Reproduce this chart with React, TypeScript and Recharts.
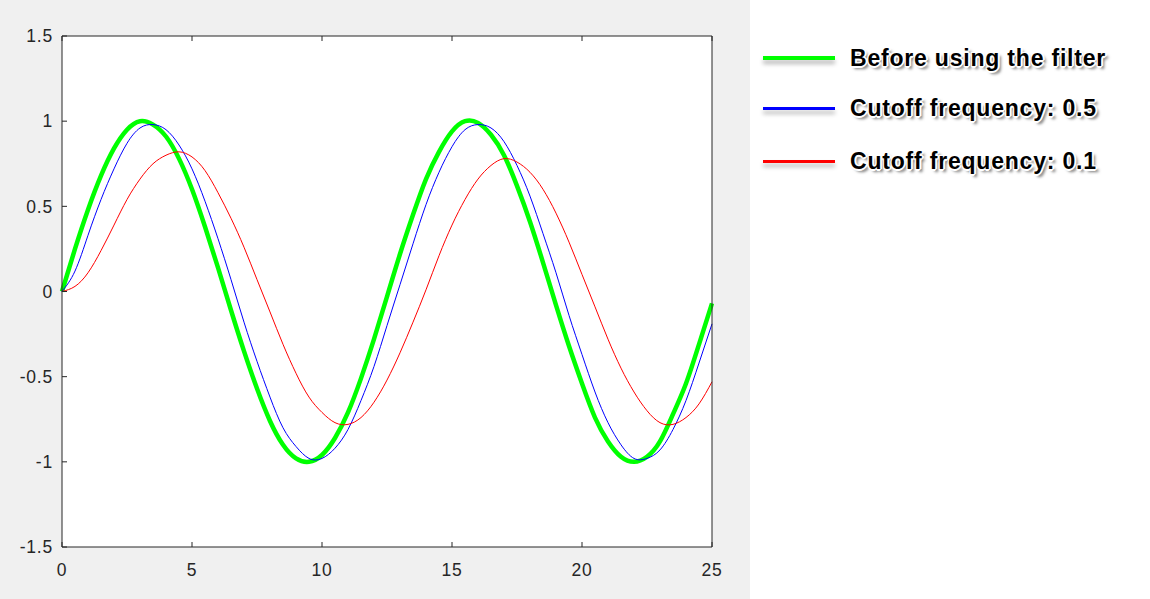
import React from "react";
import { LineChart, Line, XAxis, YAxis, CartesianGrid, Legend } from "recharts";

// sample times
const timeSteps = [
  0, 0.5, 1, 1.5, 2, 2.5, 3, 3.5, 4, 4.5, 5, 5.5, 6, 6.5, 7, 7.5, 8, 8.5, 9, 9.5,
  10, 10.5, 11, 11.5, 12, 12.5, 13, 13.5, 14, 14.5, 15, 15.5, 16, 16.5, 17, 17.5,
  18, 18.5, 19, 19.5, 20, 20.5, 21, 21.5, 22, 22.5, 23, 23.5, 24, 24.5, 25,
];

// green: noisy input
const rawSignal = [
  0, 0.25, 0.48, 0.68, 0.84, 0.95, 1.0, 0.98, 0.91, 0.78, 0.6, 0.38, 0.14, -0.11,
  -0.35, -0.57, -0.76, -0.9, -0.98, -1.0, -0.96, -0.86, -0.71, -0.51, -0.28, -0.03,
  0.22, 0.45, 0.66, 0.82, 0.94, 1.0, 0.99, 0.92, 0.8, 0.62, 0.41, 0.17, -0.08,
  -0.32, -0.54, -0.74, -0.88, -0.97, -1.0, -0.97, -0.88, -0.72, -0.54, -0.31, -0.07,
];

// blue: cutoff 0.5
const cutoff05 = [
  0, 0.12, 0.33, 0.54, 0.72, 0.87, 0.96, 0.98, 0.95, 0.86, 0.72, 0.53, 0.31, 0.07,
  -0.18, -0.41, -0.62, -0.8, -0.91, -0.98, -0.98, -0.92, -0.81, -0.64, -0.44, -0.2,
  0.04, 0.28, 0.51, 0.7, 0.85, 0.95, 0.98, 0.96, 0.88, 0.74, 0.56, 0.34, 0.11,
  -0.14, -0.37, -0.59, -0.77, -0.9, -0.98, -0.98, -0.93, -0.81, -0.64, -0.42, -0.19,
];

// red: cutoff 0.1
const cutoff01 = [
  0, 0.03, 0.11, 0.24, 0.39, 0.54, 0.66, 0.75, 0.8, 0.82, 0.79, 0.71, 0.58, 0.43,
  0.26, 0.07, -0.12, -0.31, -0.48, -0.62, -0.71, -0.77, -0.78, -0.74, -0.65, -0.52,
  -0.36, -0.18, 0.01, 0.21, 0.39, 0.54, 0.66, 0.74, 0.78, 0.76, 0.7, 0.6, 0.46,
  0.29, 0.1, -0.09, -0.28, -0.45, -0.59, -0.7, -0.77, -0.78, -0.74, -0.66, -0.53,
];

const xTicks = [0, 5, 10, 15, 20, 25];
const yTicks = [-1.5, -1, -0.5, 0, 0.5, 1, 1.5];
const seriesNames = [
  "Before using the filter",
  "Cutoff frequency: 0.5",
  "Cutoff frequency: 0.1",
];

const data = timeSteps.map((t, i) => ({
  t,
  raw: rawSignal[i],
  f05: cutoff05[i],
  f01: cutoff01[i],
}));

const axisColor = "#262626";
const tickFont = {
  fontFamily: "'Liberation Sans', Arial, sans-serif",
  fontSize: 17.5,
  letterSpacing: 0.8,
  fill: axisColor,
};

const legendTextStyle: React.CSSProperties = {
  fontFamily: "'Liberation Sans', Arial, sans-serif",
  fontWeight: "bold",
  fontSize: 23,
  letterSpacing: 0.8,
  color: "#000",
  textShadow:
    "-1px -1px 0 #fff, 1px -1px 0 #fff, -1px 1px 0 #fff, 1px 1px 0 #fff, 0 2px 0 #fff, 2px 0 0 #fff, 3px 3px 3px rgba(0,0,0,0.55)",
  whiteSpace: "nowrap",
};

const swatchHeights = [4, 3, 3];
const rowHeights = [48, 52, 54];

const FilterLegend = ({ payload }: any) => {
  // keep the plotting order, not alphabetical
  const items = [...(payload || [])].sort(
    (a: any, b: any) => seriesNames.indexOf(a.value) - seriesNames.indexOf(b.value)
  );
  return (
    <div style={{ width: 380 }}>
      {items.map((entry: any, i: number) => (
        <div
          key={entry.value}
          style={{ display: "flex", alignItems: "center", height: rowHeights[i] }}
        >
          <div
            style={{
              width: 72,
              height: swatchHeights[i],
              background: entry.color,
              boxShadow: "0 4px 4px rgba(0,0,0,0.28)",
              marginRight: 15,
            }}
          />
          <span style={legendTextStyle}>{entry.value}</span>
        </div>
      ))}
    </div>
  );
};

export default function App() {
  return (
    <div
      style={{
        width: 1150,
        height: 599,
        position: "relative",
        background: "linear-gradient(to right, #f0f0f0 0, #f0f0f0 750px, #ffffff 750px)",
      }}
    >
      <style>{`body { margin: 0; }`}</style>
      <LineChart
        width={1150}
        height={599}
        data={data}
        margin={{ top: 30, right: 430, bottom: 22, left: 0 }}
      >
        <CartesianGrid fill="#ffffff" horizontal={false} vertical={false} />
        <XAxis
          xAxisId="bottom"
          dataKey="t"
          type="number"
          domain={[0, 25]}
          ticks={xTicks}
          height={30}
          tickSize={-5}
          tickMargin={22}
          stroke={axisColor}
          tick={tickFont}
        />
        <XAxis
          xAxisId="top"
          orientation="top"
          dataKey="t"
          type="number"
          domain={[0, 25]}
          ticks={xTicks}
          height={6}
          tickSize={-5}
          tickFormatter={() => ""}
          stroke={axisColor}
        />
        <YAxis
          yAxisId="left"
          type="number"
          domain={[-1.5, 1.5]}
          ticks={yTicks}
          width={62}
          tickSize={-5}
          tickMargin={14}
          stroke={axisColor}
          tick={tickFont}
        />
        <YAxis
          yAxisId="right"
          orientation="right"
          type="number"
          domain={[-1.5, 1.5]}
          ticks={yTicks}
          width={8}
          tickSize={-5}
          tickFormatter={() => ""}
          stroke={axisColor}
        />
        <Legend
          layout="vertical"
          align="center"
          verticalAlign="middle"
          wrapperStyle={{ left: 763, top: 34, width: 380 }}
          content={<FilterLegend />}
        />
        <Line
          xAxisId="bottom"
          yAxisId="left"
          type="natural"
          dataKey="raw"
          name={seriesNames[0]}
          stroke="#00ff00"
          strokeWidth={4.5}
          strokeLinejoin="round"
          dot={false}
          isAnimationActive={false}
        />
        <Line
          xAxisId="bottom"
          yAxisId="left"
          type="natural"
          dataKey="f05"
          name={seriesNames[1]}
          stroke="#0000ff"
          strokeWidth={1}
          dot={false}
          isAnimationActive={false}
        />
        <Line
          xAxisId="bottom"
          yAxisId="left"
          type="natural"
          dataKey="f01"
          name={seriesNames[2]}
          stroke="#ff0000"
          strokeWidth={1}
          dot={false}
          isAnimationActive={false}
        />
      </LineChart>
    </div>
  );
}
